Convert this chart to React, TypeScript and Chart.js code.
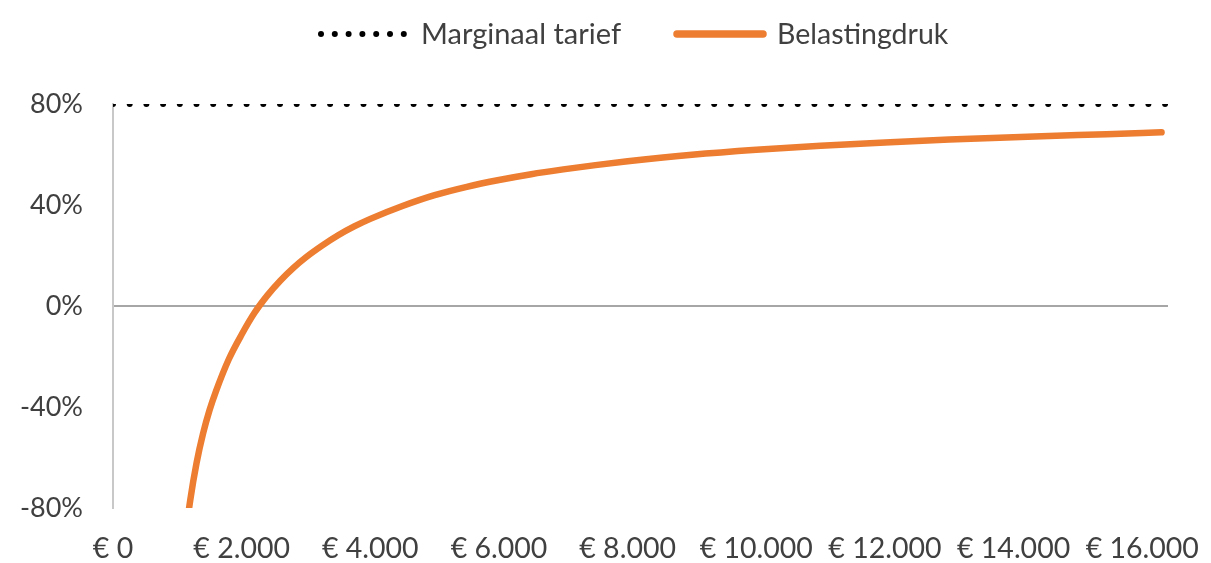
import React, { useEffect, useRef } from "react";
import { Chart, registerables } from "chart.js";

Chart.register(...registerables);

const incomes = [1000, 1100, 1200, 1300, 1400, 1500, 1600, 1800, 2000, 2200, 2400, 2600, 2800, 3000, 3250, 3500, 3750, 4000, 4500, 5000, 5500, 6000, 6500, 7000, 7500, 8000, 9000, 10000, 11000, 12000, 13000, 14000, 15000, 16000, 16300];
const belastingdruk = [-122, -97, -77, -62, -50.5, -41.3, -33.8, -21.1, -11.3, -2.7, 4.2, 10, 15, 19.3, 23.9, 28, 31.5, 34.5, 39.6, 43.9, 47.2, 49.9, 52.2, 54.1, 55.8, 57.3, 59.9, 61.9, 63.5, 64.8, 65.9, 66.8, 67.7, 68.5, 68.8];
const marginalIncomes = [0, 16400];
const marginaalTarief = [80, 80];
const xTicks = [0, 2000, 4000, 6000, 8000, 10000, 12000, 14000, 16000];
const yTicks = [-80, -40, 0, 40, 80];

const FONT = "Lato, 'Open Sans', sans-serif";
const TEXT = "#404040";
const ORANGE = "#ED7D31";

const fmtEuro = (v: number) =>
  "€ " + Math.round(v).toString().replace(/\B(?=(\d{3})+(?!\d))/g, ".");

const legendPlugin = {
  id: "customLegend",
  afterDraw(chart: any) {
    const ctx = chart.ctx;
    ctx.save();
    const y = 34;
    ctx.fillStyle = "#000000";
    for (let i = 0; i < 7; i++) {
      ctx.beginPath();
      ctx.arc(321 + i * 13.8, y, 3, 0, Math.PI * 2);
      ctx.fill();
    }
    ctx.font = `29px ${FONT}`;
    ctx.fillStyle = TEXT;
    ctx.textBaseline = "middle";
    ctx.textAlign = "left";
    ctx.fillText("Marginaal tarief", 421, y + 1);
    ctx.strokeStyle = ORANGE;
    ctx.lineWidth = 7.5;
    ctx.lineCap = "round";
    ctx.beginPath();
    ctx.moveTo(677, y);
    ctx.lineTo(763, y);
    ctx.stroke();
    ctx.font = `28.5px ${FONT}`;
    ctx.fillText("Belastingdruk", 777, y + 1);
    ctx.restore();
  },
};

export default function App() {
  const ref = useRef<HTMLCanvasElement | null>(null);
  useEffect(() => {
    if (!ref.current) return;
    const chart = new Chart(ref.current, {
      type: "line",
      data: {
        datasets: [
          {
            label: "Marginaal tarief",
            data: marginalIncomes.map((x, i) => ({ x, y: marginaalTarief[i] })),
            borderColor: "#000000",
            borderWidth: 6,
            borderDash: [0, 16.7],
            borderCapStyle: "round",
            pointRadius: 0,
            fill: false,
          },
          {
            label: "Belastingdruk",
            data: incomes.map((x, i) => ({ x, y: belastingdruk[i] })),
            borderColor: ORANGE,
            borderWidth: 6.5,
            borderCapStyle: "round",
            borderJoinStyle: "round",
            cubicInterpolationMode: "monotone",
            pointRadius: 0,
            fill: false,
          },
        ],
      },
      options: {
        responsive: false,
        animation: false,
        layout: { padding: { top: 104, right: 43, left: 0, bottom: 0 } },
        plugins: { legend: { display: false }, tooltip: { enabled: false } },
        scales: {
          x: {
            type: "linear",
            min: 0,
            max: 16400,
            afterBuildTicks: (scale: any) => {
              scale.ticks = xTicks.map((v) => ({ value: v }));
            },
            afterFit: (scale: any) => {
              scale.height = 55;
              scale.paddingLeft = 0;
              scale.paddingRight = 0;
            },
            grid: { display: false, drawTicks: false },
            border: { display: false },
            ticks: {
              autoSkip: false,
              maxRotation: 0,
              padding: 24,
              color: TEXT,
              font: { family: FONT, size: 28.5 },
              callback: (v: any) => fmtEuro(Number(v)),
            },
          },
          y: {
            min: -80,
            max: 80,
            afterBuildTicks: (scale: any) => {
              scale.ticks = yTicks.map((v) => ({ value: v }));
            },
            afterFit: (scale: any) => {
              scale.width = 113;
              scale.paddingTop = 0;
              scale.paddingBottom = 0;
            },
            grid: {
              drawTicks: false,
              lineWidth: 2,
              color: (c: any) => (c.tick && c.tick.value === 0 ? "#a6a6a6" : "rgba(0,0,0,0)"),
            },
            border: { display: true, color: "#c8c8c8", width: 2 },
            ticks: {
              padding: 30,
              color: TEXT,
              font: { family: FONT, size: 27 },
              callback: (v: any) => v + "%",
            },
          },
        },
      },
      plugins: [legendPlugin],
    } as any);
    return () => chart.destroy();
  }, []);
  return (
    <div style={{ position: "fixed", left: 0, top: 0, width: 1211, height: 563 }}>
      <canvas ref={ref} width={1211} height={563} />
    </div>
  );
}
